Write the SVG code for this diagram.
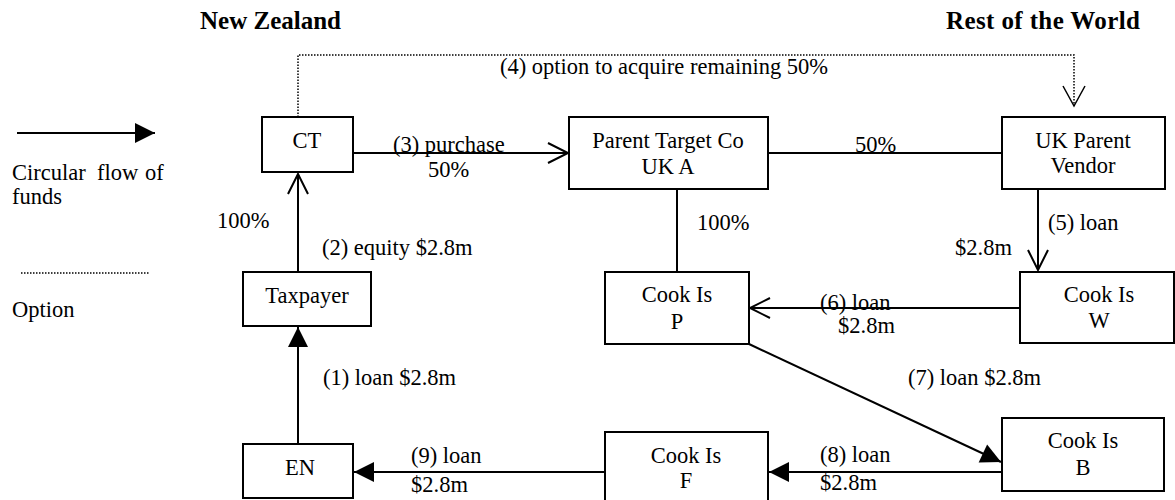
<svg xmlns="http://www.w3.org/2000/svg" width="1175" height="500" viewBox="0 0 1175 500">
<style>
text{font-family:"Liberation Serif","Times New Roman",serif;font-size:22.5px;fill:#000}
.h{font-weight:bold;font-size:25px}
.c{text-anchor:middle}
.box{fill:#fff;stroke:#000;stroke-width:2}
.ln{fill:none;stroke:#000;stroke-width:2}
.dot{fill:none;stroke:#000;stroke-width:1.5;stroke-dasharray:1.5 1.5}
</style>
<defs>
<marker id="open" markerUnits="userSpaceOnUse" markerWidth="30" markerHeight="30" viewBox="-25 -15 30 30" refX="0" refY="0" orient="auto" overflow="visible">
<path d="M-20,-10 L0,0 L-20,10" fill="none" stroke="#000" stroke-width="2"/>
</marker>
<marker id="openthin" markerUnits="userSpaceOnUse" markerWidth="30" markerHeight="30" viewBox="-25 -15 30 30" refX="0" refY="0" orient="auto" overflow="visible">
<path d="M-20,-11 L0,0 L-20,11" fill="none" stroke="#000" stroke-width="1.5"/>
</marker>
<marker id="fill" markerUnits="userSpaceOnUse" markerWidth="30" markerHeight="30" viewBox="-25 -15 30 30" refX="0" refY="0" orient="auto" overflow="visible">
<path d="M0,0 L-20,-10 L-20,10 Z" fill="#000"/>
</marker>
</defs>

<g id="headings">
<text class="h" x="200" y="29">New Zealand</text>
<text class="h" x="946" y="29" textLength="194" lengthAdjust="spacing">Rest of the World</text>
</g>

<g id="legend">
<line class="ln" x1="17" y1="133" x2="155" y2="133" marker-end="url(#fill)"/>
<text x="12" y="180">Circular</text>
<text x="97" y="180">flow</text>
<text x="145" y="180">of</text>
<text x="12" y="204">funds</text>
<line class="dot" x1="21" y1="273" x2="150" y2="273"/>
<text x="12" y="317">Option</text>
</g>

<g id="connectors">
<line class="ln" x1="298" y1="444" x2="298" y2="327" marker-end="url(#fill)"/>
<line class="ln" x1="298" y1="272" x2="298" y2="174" marker-end="url(#open)"/>
<line class="ln" x1="353" y1="153" x2="568" y2="153" marker-end="url(#open)"/>
<path class="dot" d="M298,117 V55 H1074 V106" marker-end="url(#openthin)"/>
<line class="ln" x1="768" y1="153" x2="1002" y2="153"/>
<line class="ln" x1="677" y1="189" x2="677" y2="272"/>
<line class="ln" x1="1038" y1="189" x2="1038" y2="270" marker-end="url(#open)"/>
<line class="ln" x1="1020" y1="308" x2="750" y2="308" marker-end="url(#open)"/>
<line class="ln" x1="749" y1="344" x2="1001" y2="462" marker-end="url(#fill)"/>
<line class="ln" x1="1002" y1="472" x2="769" y2="472" marker-end="url(#fill)"/>
<line class="ln" x1="605" y1="472" x2="354" y2="472" marker-end="url(#fill)"/>
</g>

<g id="labels">
<text x="500" y="74">(4) option to acquire remaining 50%</text>
<text x="393" y="152">(3) purchase</text>
<text x="428" y="177">50%</text>
<text x="855" y="152">50%</text>
<text x="217" y="228">100%</text>
<text x="322" y="255">(2) equity $2.8m</text>
<text x="697" y="230">100%</text>
<text x="1048" y="230">(5) loan</text>
<text x="955" y="255">$2.8m</text>
<text x="820" y="310">(6) loan</text>
<text x="838" y="333">$2.8m</text>
<text x="908" y="385">(7) loan $2.8m</text>
<text x="820" y="462">(8) loan</text>
<text x="820" y="490">$2.8m</text>
<text x="411" y="463">(9) loan</text>
<text x="411" y="492">$2.8m</text>
<text x="323" y="385">(1) loan $2.8m</text>
</g>

<g id="node-ct">
<rect class="box" x="262" y="117" width="91" height="55"/>
<text class="c" x="307" y="148">CT</text>
</g>
<g id="node-parent-target">
<rect class="box" x="569" y="117" width="199" height="72"/>
<text class="c" x="668" y="148">Parent Target Co</text>
<text class="c" x="668" y="174">UK A</text>
</g>
<g id="node-uk-parent">
<rect class="box" x="1002" y="117" width="163" height="72"/>
<text class="c" x="1083" y="148">UK Parent</text>
<text class="c" x="1083" y="173">Vendor</text>
</g>
<g id="node-taxpayer">
<rect class="box" x="243" y="272" width="128" height="54"/>
<text class="c" x="307" y="303">Taxpayer</text>
</g>
<g id="node-cook-p">
<rect class="box" x="605" y="272" width="144" height="72"/>
<text class="c" x="677" y="302">Cook Is</text>
<text class="c" x="677" y="329">P</text>
</g>
<g id="node-cook-w">
<rect class="box" x="1020" y="272" width="154" height="71"/>
<text class="c" x="1099" y="302">Cook Is</text>
<text class="c" x="1099" y="328">W</text>
</g>
<g id="node-en">
<rect class="box" x="243" y="444" width="110" height="54"/>
<text class="c" x="300" y="475">EN</text>
</g>
<g id="node-cook-f">
<rect class="box" x="605" y="432" width="163" height="72"/>
<text class="c" x="686" y="463">Cook Is</text>
<text class="c" x="686" y="488">F</text>
</g>
<g id="node-cook-b">
<rect class="box" x="1002" y="418" width="162" height="73"/>
<text class="c" x="1083" y="448">Cook Is</text>
<text class="c" x="1083" y="475">B</text>
</g>
</svg>
